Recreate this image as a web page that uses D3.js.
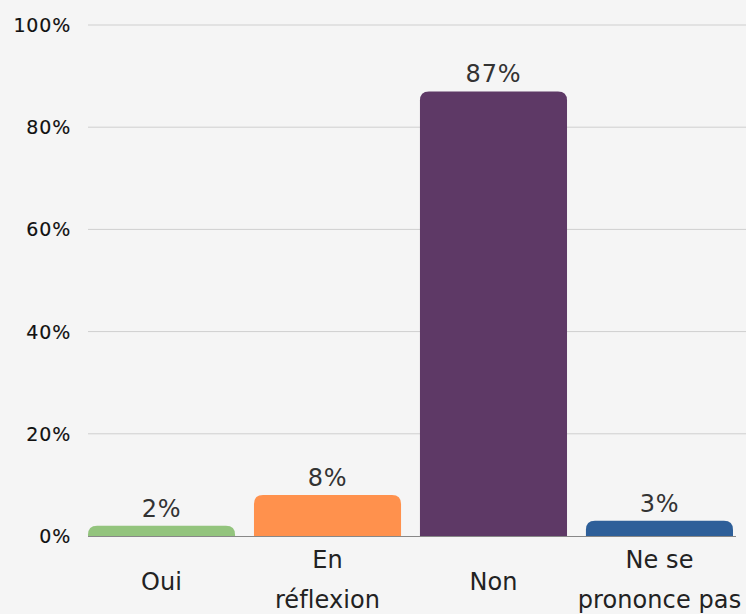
<!DOCTYPE html>
<html>
<head>
<meta charset="utf-8">
<script src="https://cdn.jsdelivr.net/npm/d3@7"></script>
<style>
  body { margin: 0; background: #f5f5f5; }
  svg { display: block; font-family: "DejaVu Sans", sans-serif; }
</style>
</head>
<body>
<svg id="chart" width="746" height="614"></svg>
<script>
var categories = [["Oui"], ["En", "réflexion"], ["Non"], ["Ne se", "prononce pas"]];
var values = [2, 8, 87, 3];
var colors = ["#93c47d", "#ff914d", "#5e3966", "#2e5f99"];
var yTicks = [0, 20, 40, 60, 80, 100];

var svg = d3.select("#chart");

var x = d3.scaleBand()
    .domain(d3.range(values.length))
    .range([88, 733])
    .paddingInner(0.114)
    .paddingOuter(0);

var y = d3.scaleLinear()
    .domain([0, 100])
    .range([536, 25]);

// grid
svg.append("g")
    .selectAll("line")
    .data(yTicks.filter(function (d) { return d > 0; }))
    .enter()
    .append("line")
    .attr("x1", 88)
    .attr("x2", 746)
    .attr("y1", function (d) { return y(d); })
    .attr("y2", function (d) { return y(d); })
    .attr("stroke", "#cfcfcf")
    .attr("stroke-width", 1);

// y labels
svg.append("g")
    .selectAll("text")
    .data(yTicks)
    .enter()
    .append("text")
    .attr("x", 71)
    .attr("y", function (d) { return y(d) + 7; })
    .attr("text-anchor", "end")
    .attr("font-size", 19)
    .attr("letter-spacing", 0.8)
    .attr("fill", "#111")
    .attr("stroke", "#111")
    .attr("stroke-width", 0.15)
    .text(function (d) { return d + "%"; });

function topRounded(x0, y0, w, h, r) {
    r = Math.min(r, h, w / 2);
    return "M" + x0 + "," + (y0 + h) +
        "V" + (y0 + r) +
        "Q" + x0 + "," + y0 + " " + (x0 + r) + "," + y0 +
        "H" + (x0 + w - r) +
        "Q" + (x0 + w) + "," + y0 + " " + (x0 + w) + "," + (y0 + r) +
        "V" + (y0 + h) + "Z";
}

svg.append("g")
    .selectAll("path")
    .data(values)
    .enter()
    .append("path")
    .attr("d", function (d, i) {
        return topRounded(x(i), y(d), x.bandwidth(), y(0) - y(d), 9);
    })
    .attr("fill", function (d, i) { return colors[i]; });

// baseline
svg.append("line")
    .attr("x1", 88)
    .attr("x2", 736)
    .attr("y1", y(0) + 0.5)
    .attr("y2", y(0) + 0.5)
    .attr("stroke", "#888")
    .attr("stroke-width", 1);

// value labels
svg.append("g")
    .selectAll("text")
    .data(values)
    .enter()
    .append("text")
    .attr("x", function (d, i) { return x(i) + x.bandwidth() / 2; })
    .attr("y", function (d) { return y(d) - 9; })
    .attr("text-anchor", "middle")
    .attr("font-size", 24)
    .attr("letter-spacing", 0.8)
    .attr("fill", "#333")
    .text(function (d) { return d + "%"; });

// category labels
var cat = svg.append("g")
    .selectAll("text")
    .data(categories)
    .enter()
    .append("text")
    .attr("text-anchor", "middle")
    .attr("font-size", 24)
    .attr("letter-spacing", 0.1)
    .attr("fill", "#222")
    .attr("x", function (d, i) { return x(i) + x.bandwidth() / 2; })
    .attr("y", function (d) { return 590 - (d.length - 1) * 22; });

cat.selectAll("tspan")
    .data(function (d, i) { return d.map(function (t) { return { t: t, i: i }; }); })
    .enter()
    .append("tspan")
    .attr("x", function (d) { return x(d.i) + x.bandwidth() / 2; })
    .attr("dy", function (d, j) { return j === 0 ? 0 : 40; })
    .text(function (d) { return d.t; });
</script>
</body>
</html>
